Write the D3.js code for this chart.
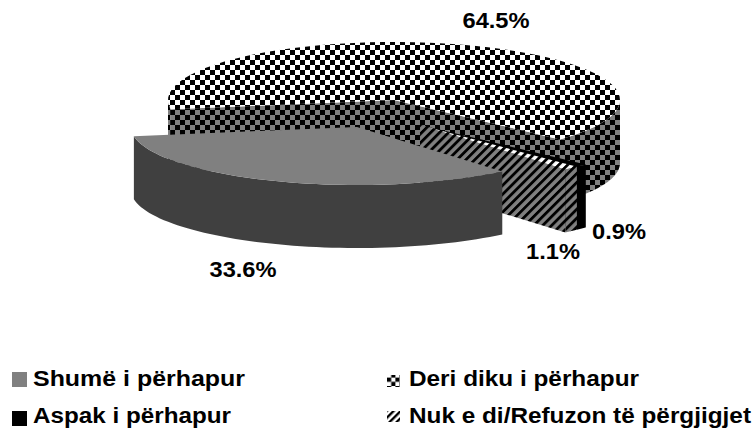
<!DOCTYPE html>
<html><head><meta charset="utf-8"><script src="https://d3js.org/d3.v7.min.js"></script>
<style>html,body{margin:0;background:#fff}svg{display:block}text{font-family:"Liberation Sans",Arial,sans-serif;font-weight:bold;fill:#000}</style></head>
<body><svg id="c" width="754" height="428"></svg>
<script>
const categories=["Shumë i përhapur","Deri diku i përhapur","Aspak i përhapur","Nuk e di/Refuzon të përgjigjet"];
const values=[33.6,64.5,0.9,1.1];
const valueLabels=["33.6%","64.5%","0.9%","1.1%"];
const W=754,H=428,cx=394,cy=100,rx=226,ry=58,depth=63;
const startDeg=50;
const offsets=[[-37,27],[0,0],[26,25],[26,25]];
const labelPos=[[243,277],[496,28],[619,239],[553,259]];
const legendPos=[[12,386],[387,386],[12,423],[387,423]];
const legendTextX=[33,409,33,409];
const legendTextW=[212,230,198,342];
const svg=d3.select("#c");
const defs=svg.append("defs");
defs.append("filter").attr("id","soft").attr("x","-5%").attr("y","-5%").attr("width","110%").attr("height","110%")
 .append("feGaussianBlur").attr("stdDeviation",0.45);
function checker(id,dark,light,s){
 const p=defs.append("pattern").attr("id",id).attr("width",s*2).attr("height",s*2).attr("patternUnits","userSpaceOnUse");
 p.append("rect").attr("width",s*2).attr("height",s*2).attr("fill",light);
 p.append("rect").attr("width",s).attr("height",s).attr("fill",dark);
 p.append("rect").attr("x",s).attr("y",s).attr("width",s).attr("height",s).attr("fill",dark);
}
checker("chk","#000","#fff",5);checker("chkD","#000","#808080",5);checker("chkL","#000","#fff",4.2);
function hatch(id,bg,s,w){
 const p=defs.append("pattern").attr("id",id).attr("width",s).attr("height",s).attr("patternUnits","userSpaceOnUse").attr("patternTransform","rotate(45)");
 p.append("rect").attr("width",s).attr("height",s).attr("fill",bg);
 p.append("rect").attr("width",w).attr("height",s).attr("fill","#000");
}
hatch("hat","#808080",6.3,2.8);hatch("hatT","#fff",6.3,2.8);hatch("hatL","#fff",5,2.4);
const fills={top:["#808080","url(#chk)","#000","url(#hatT)"],side:["#404040","url(#chkD)","#000","url(#hat)"]};
const pie=d3.pie().sort(null).value(d=>d).startAngle(startDeg*Math.PI/180).endAngle((startDeg+360)*Math.PI/180);
const arcs=pie(values);
const pt=(a,o,dy=0)=>[cx+o[0]+rx*Math.cos(a),cy+o[1]+ry*Math.sin(a)+dy];
const line=d3.line();
const arcPts=(a0,a1,o,dy=0)=>d3.range(0,61).map(i=>pt(a0+(a1-a0)*i/60,o,dy));
function topFace(d,i){const o=offsets[i];return line([[cx+o[0],cy+o[1]],...arcPts(d.startAngle,d.endAngle,o)])+"Z";}
function wall(i,ang){const o=offsets[i],c=[cx+o[0],cy+o[1]],e=pt(ang,o);return line([c,e,[e[0],e[1]+depth],[c[0],c[1]+depth]])+"Z";}
function outer(i,a0,a1){const o=offsets[i];return line([...arcPts(a0,a1,o),...arcPts(a1,a0,o,depth)])+"Z";}
const g=svg.append("g").attr("filter","url(#soft)");
const tau=2*Math.PI;
function drawSlice(i){
 const d=arcs[i],side=fills.side[i],a0=d.startAngle,a1=d.endAngle;
 if(-Math.cos(a0)>0)g.append("path").attr("d",wall(i,a0)).attr("fill",side);
 if(Math.cos(a1)>0)g.append("path").attr("d",wall(i,a1)).attr("fill",side);
 for(const k of [0,1,2]){
  const lo=Math.max(a0,k*tau),hi=Math.min(a1,k*tau+Math.PI);
  if(hi>lo)g.append("path").attr("d",outer(i,lo,hi)).attr("fill",side);
 }
 g.append("path").attr("d",topFace(d,i)).attr("fill",fills.top[i]);
}
[1,2,3,0].forEach(drawSlice);
svg.selectAll("text.v").data(valueLabels).join("text").attr("class","v")
 .attr("x",(d,i)=>labelPos[i][0]).attr("y",(d,i)=>labelPos[i][1]).attr("text-anchor","middle").attr("font-size",22).attr("textLength",(d,i)=>i===2||i===3?54:67).attr("lengthAdjust","spacingAndGlyphs").text(d=>d);
const lg=svg.selectAll("g.l").data(categories).join("g").attr("class","l").attr("transform",(d,i)=>`translate(${legendPos[i]})`);
const lf=["#808080","url(#chkL)","#000","url(#hatL)"];
const mkY=[-14,-11,-12,-12],mkH=[15,12,15,11],mkW=[15,13,15,13];
lg.append("rect").attr("y",(d,i)=>mkY[i]).attr("width",(d,i)=>mkW[i]).attr("height",(d,i)=>mkH[i]).attr("fill",(d,i)=>lf[i]);
lg.append("text").attr("x",(d,i)=>legendTextX[i]-legendPos[i][0]).attr("y",0).attr("font-size",22).attr("textLength",(d,i)=>legendTextW[i]).attr("lengthAdjust","spacingAndGlyphs").text(d=>d);
</script></body></html>
